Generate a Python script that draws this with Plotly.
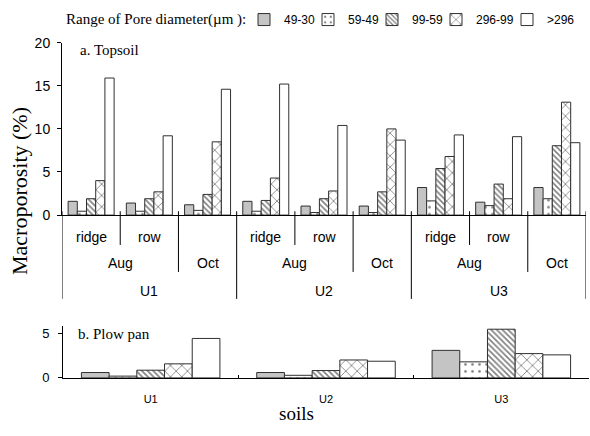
import plotly.graph_objects as go

# ---------------- data ----------------
series_names = ["49-30", "59-49", "99-59", "296-99", ">296"]

top_site = ["U1", "U1", "U1", "U2", "U2", "U2", "U3", "U3", "U3"]
top_month = ["Aug", "Aug", "Oct", "Aug", "Aug", "Oct", "Aug", "Aug", "Oct"]
top_position = ["ridge", "row", "", "ridge", "row", "", "ridge", "row", ""]

top_4930 = [1.6, 1.4, 1.2, 1.6, 1.05, 1.05, 3.2, 1.5, 3.2]
top_5949 = [0.45, 0.45, 0.55, 0.45, 0.3, 0.3, 1.65, 1.1, 1.9]
top_9959 = [1.9, 1.9, 2.4, 1.7, 1.9, 2.7, 5.4, 3.6, 8.05]
top_29699 = [4.0, 2.7, 8.5, 4.3, 2.8, 10.0, 6.8, 1.9, 13.1]
top_gt296 = [15.9, 9.2, 14.6, 15.2, 10.4, 8.7, 9.3, 9.1, 8.4]

pan_sites = ["U1", "U2", "U3"]
pan_4930 = [0.6, 0.6, 3.07]
pan_5949 = [0.2, 0.29, 1.79]
pan_9959 = [0.86, 0.82, 5.43]
pan_29699 = [1.57, 2.0, 2.71]
pan_gt296 = [4.4, 1.86, 2.57]

top_vals = [top_4930, top_5949, top_9959, top_29699, top_gt296]
pan_vals = [pan_4930, pan_5949, pan_9959, pan_29699, pan_gt296]

# ---------------- styling ----------------
W, H = 590, 436
def px(x):
    return x / W
def py(y):
    return 1 - y / H

LINE = dict(color="#303030", width=1)
styles = [
    dict(color="#c4c4c4", line=LINE),
    dict(color="white", line=LINE,
         pattern=dict(shape=".", fgcolor="black", bgcolor="white", size=7, solidity=0.12)),
    dict(color="white", line=LINE,
         pattern=dict(shape="\\", fgcolor="black", bgcolor="white", size=4, solidity=0.4)),
    dict(color="white", line=LINE,
         pattern=dict(shape="x", fgcolor="black", bgcolor="white", size=8, solidity=0.2)),
    dict(color="white", line=LINE),
]
legend_ids = ["legend", "legend2", "legend3", "legend4", "legend5"]
legend_icon_centers = [264, 328, 392, 456, 527]

SANS = "Liberation Sans"
SERIF = "Liberation Serif"

fig = go.Figure()
top_x = list(range(len(top_site)))
for k, name in enumerate(series_names):
    fig.add_trace(go.Bar(x=top_x, y=top_vals[k], name=name, marker=styles[k],
                         xaxis="x", yaxis="y", legend=legend_ids[k], showlegend=True))
    fig.add_trace(go.Bar(x=pan_sites, y=pan_vals[k], name=name, marker=styles[k],
                         xaxis="x2", yaxis="y2", showlegend=False))

# ---------------- hierarchical category labels for topsoil ----------------
shapes = []
annotations = []
div_top = 211
level_bottom = {1: 246, 2: 274, 3: 302}
n = len(top_site)
bounds = [(-0.5, 3)]
for i in range(1, n):
    if top_site[i] != top_site[i - 1]:
        lvl = 3
    elif top_month[i] != top_month[i - 1]:
        lvl = 2
    else:
        lvl = 1
    bounds.append((i - 0.5, lvl))
bounds.append((n - 0.5, 3))
for xb, lvl in bounds:
    shapes.append(dict(type="line", xref="x", yref="paper", x0=xb, x1=xb,
                       y0=py(div_top), y1=py(level_bottom[lvl]),
                       line=dict(color="black", width=1)))

lab_font = dict(family=SANS, size=14, color="black")
for i, p in enumerate(top_position):
    if p:
        annotations.append(dict(x=i, y=py(238), xref="x", yref="paper", text=p,
                                xanchor="center", yanchor="middle",
                                showarrow=False, font=lab_font))

def runs(keys):
    out = []
    start = 0
    for i in range(1, len(keys) + 1):
        if i == len(keys) or keys[i] != keys[start]:
            out.append((keys[start], start, i - 1))
            start = i
    return out

month_keys = [s + "|" + m for s, m in zip(top_site, top_month)]
for key, a, b in runs(month_keys):
    annotations.append(dict(x=(a + b) / 2, y=py(265), xref="x", yref="paper",
                            text=key.split("|")[1], xanchor="center", yanchor="middle",
                            showarrow=False, font=lab_font))
for key, a, b in runs(top_site):
    annotations.append(dict(x=(a + b) / 2, y=py(294), xref="x", yref="paper",
                            text=key, xanchor="center", yanchor="middle",
                            showarrow=False, font=lab_font))

# ---------------- text annotations ----------------
annotations += [
    dict(x=px(78), y=py(44), xref="paper", yref="paper", text="a. Topsoil",
         xanchor="left", yanchor="middle", showarrow=False,
         font=dict(family=SERIF, size=15, color="black")),
    dict(x=px(76), y=py(338), xref="paper", yref="paper", text="b. Plow pan",
         xanchor="left", yanchor="middle", showarrow=False,
         font=dict(family=SERIF, size=15, color="black")),
    dict(x=px(19), y=py(190), xref="paper", yref="paper", text="Macroporosity (%)",
         textangle=-90, xanchor="center", yanchor="middle", showarrow=False,
         font=dict(family=SERIF, size=22, color="black")),
    dict(x=px(297), y=py(421), xref="paper", yref="paper", text="soils",
         xanchor="center", yanchor="middle",
         showarrow=False, font=dict(family=SERIF, size=19, color="black")),
    dict(x=px(64), y=py(12), xref="paper", yref="paper",
         text="Range of Pore diameter(µm ):", xanchor="left", yanchor="middle",
         showarrow=False, font=dict(family=SERIF, size=15, color="black")),
]

layout_legends = {}
for k, lid in enumerate(legend_ids):
    layout_legends[lid] = dict(
        x=px(legend_icon_centers[k] - 20), y=py(12), xanchor="left", yanchor="middle",
        orientation="h", bgcolor="rgba(0,0,0,0)", borderwidth=0,
        font=dict(family=SANS, size=12, color="black"),
    )

fig.update_layout(
    width=W, height=H,
    margin=dict(l=0, r=0, t=0, b=0),
    paper_bgcolor="white", plot_bgcolor="white",
    barmode="group", bargap=0.21, bargroupgap=0,
    xaxis=dict(domain=[px(62), px(586)], range=[-0.5, n - 0.5], anchor="y",
               showticklabels=False, showline=True, linecolor="black", linewidth=1,
               ticks="", showgrid=False, zeroline=False),
    yaxis=dict(domain=[py(215), py(36)], range=[0, 20], dtick=5, anchor="x",
               showline=True, linecolor="black", linewidth=1, ticks="outside",
               ticklen=4, tickcolor="black", showgrid=False, zeroline=False,
               ticklabelstandoff=4,
               tickfont=dict(family=SANS, size=14, color="black")),
    xaxis2=dict(domain=[px(63), px(589)], anchor="y2", type="category",
                showline=True, linecolor="black", linewidth=1, ticks="inside",
                tickson="boundaries", ticklen=3, tickcolor="black", showgrid=False,
                ticklabelstandoff=11,
                tickfont=dict(family=SANS, size=11, color="black")),
    yaxis2=dict(domain=[py(384), py(330)], range=[0, 5.8], tickvals=[0, 5], anchor="x2",
                showline=True, linecolor="black", linewidth=1, ticks="outside",
                ticklen=4, tickcolor="black", showgrid=False, zeroline=False,
                ticklabelstandoff=6,
                tickfont=dict(family=SANS, size=13, color="black")),
    shapes=shapes,
    annotations=annotations,
    **layout_legends,
)

fig.write_html("out.html")
